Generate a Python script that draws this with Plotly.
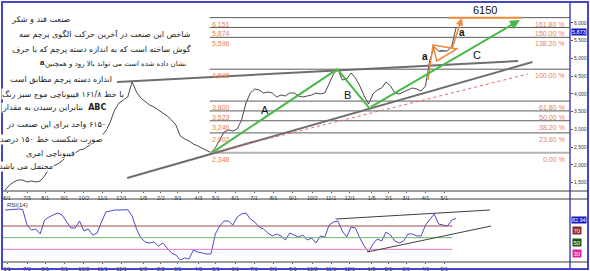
import plotly.graph_objects as go
import pandas as pd

# ---------------- data ----------------
week_dates = pd.date_range("2009-05-29", periods=104, freq="7D")

price = [1296, 1437, 1521, 1577, 1577, 1521, 1549, 1521, 1549, 1690,
         1887, 1972, 2028, 2113, 2253, 2310, 2338, 2422, 2451, 2535,
         2620, 2704, 2817, 2958, 3211, 3549, 3746, 3831, 3915, 4338,
         4056, 3887, 3775, 3690, 3634, 3549, 3465, 3380, 3268, 3127,
         2817, 2732, 2676, 2591, 2535, 2479, 2422, 2348, 2479, 2704,
         2929, 2986, 2958, 3014, 3268, 3746, 4028, 4141, 4113, 4028,
         4056, 4028, 3915, 3972, 3944, 4028, 4028, 3944, 3915, 3944,
         3972, 4028, 4000, 4028, 4310, 4563, 4698, 4394, 4422, 4591,
         4451, 4225, 3944, 3718, 4000, 4113, 4169, 4338, 4225, 4028,
         4000, 4056, 4113, 4169, 4141, 4084, 4225, 4958, 5324, 5211,
         5211, 5211, 5352, 5873]

rsi = [97.4, 98.5, 98.5, 99.0, 98.5, 71.7, 63.1, 64.9, 56.3, 80.3,
       85.4, 88.9, 92.3, 88.9, 76.9, 66.6, 66.6, 78.6, 61.4, 64.9,
       54.6, 58.0, 76.9, 94.0, 95.7, 97.4, 97.4, 97.4, 98.0, 87.1,
       64.9, 49.4, 42.6, 40.9, 42.6, 35.7, 40.9, 32.3, 23.7, 20.3,
       11.7, 15.2, 13.4, 28.9, 25.4, 23.7, 22.0, 22.0, 56.3, 70.0,
       78.6, 78.6, 71.7, 85.4, 90.6, 92.3, 82.0, 76.9, 68.3, 64.9,
       58.0, 52.9, 56.3, 52.9, 46.0, 58.0, 54.6, 51.1, 54.6, 46.0,
       49.4, 40.9, 52.9, 51.1, 71.7, 76.9, 78.6, 61.4, 51.1, 68.3,
       66.6, 49.4, 35.7, 25.4, 39.1, 47.7, 44.3, 59.7, 54.6, 44.3,
       40.9, 44.3, 56.3, 56.3, 52.9, 52.9, 71.7, 82.0, 90.6, 73.4,
       71.7, 70.0, 80.3, 82.94]

tick_dates = ["2009-06-01", "2009-07-03", "2009-08-01", "2009-09-01", "2009-10-02",
              "2009-11-01", "2009-12-01", "2010-01-05", "2010-02-02", "2010-03-01",
              "2010-04-03", "2010-05-01", "2010-06-01", "2010-07-01", "2010-08-01",
              "2010-09-01", "2010-10-02", "2010-11-01", "2010-12-01", "2011-01-05",
              "2011-02-01", "2011-03-01", "2011-04-01", "2011-05-01"]
tick_text = ["6/1", "7/3", "8/1", "9/1", "10/2", "11/1", "12/1", "1/5", "2/2", "3/1",
             "4/3", "5/1", "6/1", "7/1", "8/1", "9/1", "10/2", "11/1", "12/1", "1/5",
             "2/1", "3/1", "4/1", "5/1"]

price_ticks = [1500, 2000, 2500, 3000, 3500, 4000, 4500, 5000, 5500, 6000]
price_tick_text = ["1,500", "2,000", "2,500", "3,000", "3,500", "4,000", "4,500",
                   "5,000", "5,500", "6,000"]

fib_values = [2348, 2903, 3246, 3523, 3800, 4698, 5596, 5874, 6151]
fib_value_labels = ["2,348", "2,902", "3,246", "3,523", "3,800", "4,698", "5,596",
                    "5,874", "6,151"]
fib_pct_labels = ["0.00 %", "23.60 %", "38.20 %", "50.00 %", "61.80 %", "100.00 %",
                  "138.20 %", "150.00 %", "161.80 %"]

rsi_levels = [70, 50, 30]
rsi_level_colors = ["#a04848", "#6cb86c", "#e878c8"]
rsi_level_box = ["#8a2a2a", "#145c14", "#e0209c"]

title_fa = "صنعت قند و شکر"
para_lines = [
    "شاخص این صنعت در آخرین حرکت الگوی پرچم سه",
    "گوش ساخته است که به اندازه دسته پرچم که با حرف",
    "نشان داده شده است می تواند بالا رود و همچنین",
    "اندازه دسته پرچم مطابق است",
    "\u200fبا خط ۱۶۱/۸ فیبوناچی موج سبز رنگ",
    "بنابراین رسیدن به مقدار  <b>ABC</b>",
    "\u200f۶۱۵۰ واحد برای این صنعت در",
    "\u200fصورت شکست خط ۱۵۰ درصد",
    "فیبوناچی امری",
    "محتمل می باشد",
]
para_right = [192, 192, 187, 113, 125, 107, 107, 104, 76, 54]
para_y = [34, 49, 64, 79, 94, 108, 124, 139, 153, 166]
para_size = [8, 8, 7, 8, 8, 8, 8, 8, 8, 8]

# ---------------- layout helpers ----------------
W, H = 590, 271
def px(x):
    return x / W
def py(y):
    return 1 - y / H

X_RANGE = ["2009-05-25 14:00", "2011-11-18"]
Y_RANGE = [1267, 6563]
RSI_RANGE = [8.3, 116.3]
LBL = "Liberation Sans, Arial, sans-serif"
FA = "DejaVu Sans, sans-serif"
ORANGE = "#f08a3c"
GREEN = "#48b848"
SAL = "#e8805a"

fig = go.Figure()
fig.add_trace(go.Scatter(x=week_dates, y=price, mode="lines",
                         line=dict(color="#1a1a1a", width=0.8),
                         xaxis="x", yaxis="y", showlegend=False, hoverinfo="skip"))
fig.add_trace(go.Scatter(x=week_dates, y=rsi, mode="lines",
                         line=dict(color="#4a4ad0", width=1),
                         xaxis="x2", yaxis="y2", showlegend=False, hoverinfo="skip"))

shapes = []
ann = []

# fibonacci levels
for v, vl, pl in zip(fib_values, fib_value_labels, fib_pct_labels):
    zero = v == fib_values[0]
    shapes.append(dict(type="line", xref="x", yref="y", x0="2010-04-21", x1=X_RANGE[1],
                       y0=v, y1=v,
                       line=dict(color="#b4b4b4" if zero else "#5c5c5c", width=2 if zero else 1)))
    ann.append(dict(xref="x", yref="y", x="2010-04-22", y=v, text=vl, showarrow=False,
                    xanchor="left", yanchor="top", yshift=-1,
                    font=dict(family=LBL, size=7, color=SAL)))
    ann.append(dict(xref="paper", yref="y", x=px(567), y=v, text=pl, showarrow=False,
                    xanchor="right", yanchor="top", yshift=-1,
                    font=dict(family=LBL, size=7, color=SAL)))

# gray trend lines
shapes.append(dict(type="line", xref="x", yref="y", x0="2009-11-24", y0=4338,
                   x1="2011-08-27", y1=4930, line=dict(color="#6e6e6e", width=2)))
shapes.append(dict(type="line", xref="x", yref="y", x0="2009-12-10", y0=1634,
                   x1="2011-09-19", y1=4901, line=dict(color="#6e6e6e", width=2)))
# red dotted
shapes.append(dict(type="line", xref="x", yref="y", x0="2010-04-25", y0=2348,
                   x1="2011-09-12", y1=4563, line=dict(color="#e06a6a", width=1, dash="dot")))
# green zigzag
shapes.append(dict(type="line", xref="x", yref="y", x0="2010-04-25", y0=2348,
                   x1="2010-11-11", y1=4698, line=dict(color=GREEN, width=2)))
shapes.append(dict(type="line", xref="x", yref="y", x0="2010-11-11", y0=4698,
                   x1="2011-01-01", y1=3606, line=dict(color=GREEN, width=2)))
ann.append(dict(xref="x", yref="y", x="2011-08-30", y=6085, ax="2011-01-01", ay=3606,
                axref="x", ayref="y", showarrow=True, arrowhead=2, arrowsize=1,
                arrowwidth=2, arrowcolor=GREEN, text=""))
# orange flag
shapes.append(dict(type="line", xref="x", yref="y", x0="2011-04-05", y0=4394,
                   x1="2011-04-13", y1=5380, line=dict(color=ORANGE, width=1.5)))
shapes.append(dict(type="path", xref="x", yref="y",
                   path="M 2011-04-13,5380 L 2011-05-21,5268 L 2011-04-19,4930 Z",
                   line=dict(color=ORANGE, width=1.5)))
ann.append(dict(xref="x", yref="y", x="2011-05-29", y=6141, ax="2011-05-13", ay=5239,
                axref="x", ayref="y", showarrow=True, arrowhead=2, arrowsize=1,
                arrowwidth=1.5, arrowcolor=ORANGE, text=""))
shapes.append(dict(type="line", xref="x", yref="y", x0="2011-05-08", y0=6150,
                   x1="2011-09-02", y1=6150, line=dict(color=ORANGE, width=2)))
ann.append(dict(xref="x", yref="y", x="2011-07-05", y=6150, yanchor="bottom", text="6150",
                showarrow=False, font=dict(family=LBL, size=11, color="#111")))
ann.append(dict(xref="x", yref="y", x="2011-04-27", y=5230, text="abc", showarrow=False,
                font=dict(family=LBL, size=4, color="#444")))

# wave letters
for t, d, v, s, b in [("A", "2010-07-18", 3549, 11, False), ("B", "2010-11-28", 3972, 11, False),
                      ("C", "2011-06-22", 5099, 11, False), ("a", "2011-03-31", 5042, 10, True),
                      ("a", "2011-05-29", 5718, 10, True)]:
    ann.append(dict(xref="x", yref="y", x=d, y=v, text=f"<b>{t}</b>" if b else t,
                    showarrow=False, font=dict(family=LBL, size=s, color="#111")))

# RSI levels
for lv, c in zip(rsi_levels, rsi_level_colors):
    shapes.append(dict(type="line", xref="x2", yref="y2", x0=X_RANGE[0], x1="2011-05-14",
                       y0=lv, y1=lv, line=dict(color=c, width=1)))
# RSI trend lines
shapes.append(dict(type="line", xref="x2", yref="y2", x0="2010-11-09", y0=82,
                   x1="2011-07-13", y1=97.4, line=dict(color="#404040", width=1)))
shapes.append(dict(type="line", xref="x2", yref="y2", x0="2010-12-29", y0=25.4,
                   x1="2011-07-15", y1=70, line=dict(color="#404040", width=1)))

# right side value boxes
ann.append(dict(xref="paper", yref="y", x=px(571), y=price[-1], yshift=-5, text="5,873",
                showarrow=False, xanchor="left", bgcolor="#1818c0", borderpad=0,
                font=dict(family=LBL, size=5.5, color="white")))
ann.append(dict(xref="paper", yref="y2", x=px(571), y=rsi[-1], yshift=-2, text="82.94",
                showarrow=False, xanchor="left", bgcolor="#1818c0", borderpad=0,
                font=dict(family=LBL, size=5.5, color="white")))
for lv, c in zip(rsi_levels, rsi_level_box):
    ann.append(dict(xref="paper", yref="y2", x=px(572), y=lv, text=str(lv), showarrow=False,
                    xanchor="left", yanchor="top", bgcolor=c, borderpad=0.5,
                    font=dict(family=LBL, size=6, color="white")))
ann.append(dict(xref="paper", yref="paper", x=px(5), y=py(200), text="RSI(14)",
                showarrow=False, xanchor="left", yanchor="top",
                font=dict(family=LBL, size=6, color="#333")))

# Persian text
ann.append(dict(xref="paper", yref="paper", x=px(9), y=py(13), text=title_fa, showarrow=False,
                xanchor="left", font=dict(family=FA, size=8, color="#222")))
for t, r, yy, fs in zip(para_lines, para_right, para_y, para_size):
    ann.append(dict(xref="paper", yref="paper", x=px(r), y=py(yy), text=t, showarrow=False,
                    xanchor="right", yanchor="middle", bgcolor="white", borderpad=0,
                    font=dict(family=FA, size=fs, color="#222")))
ann.append(dict(xref="paper", yref="paper", x=px(47), y=py(63), text="<b>a</b>",
                showarrow=False, xanchor="right", yanchor="middle",
                font=dict(family=LBL, size=8, color="#111")))

# frame
BLUE = "#4646c8"
shapes.append(dict(type="rect", xref="paper", yref="paper", x0=px(2), x1=px(588), y0=py(269),
                   y1=py(2), line=dict(color=BLUE, width=2), layer="above"))
shapes.append(dict(type="line", xref="paper", yref="paper", x0=px(570), x1=px(570), y0=py(269),
                   y1=py(2), line=dict(color=BLUE, width=1.5), layer="above"))
for yy in [191, 199, 262]:
    shapes.append(dict(type="line", xref="paper", yref="paper", x0=px(3), x1=px(588), y0=py(yy),
                       y1=py(yy), line=dict(color="#3a3a3a", width=1), layer="above"))

xcommon = dict(type="date", range=X_RANGE, tickvals=tick_dates, ticktext=tick_text,
               tickfont=dict(family=LBL, size=5.5, color="#333"), showgrid=False,
               zeroline=False, showline=False, ticks="outside", ticklen=1, tickcolor="#555",
               domain=[px(3), px(570)], fixedrange=True)

fig.update_layout(
    width=W, height=H, margin=dict(l=0, r=0, t=0, b=0),
    paper_bgcolor="white", plot_bgcolor="white",
    xaxis=dict(xcommon, anchor="y"),
    xaxis2=dict(xcommon, anchor="y2"),
    yaxis=dict(domain=[py(191), py(3)], range=Y_RANGE, side="right", anchor="x",
               tickvals=price_ticks, ticktext=price_tick_text,
               tickfont=dict(family=LBL, size=5, color="#333"), showgrid=False,
               zeroline=False, ticks="outside", ticklen=2, tickcolor="#555"),
    yaxis2=dict(domain=[py(262), py(199)], range=RSI_RANGE, anchor="x2", side="right",
                showticklabels=False, showgrid=False, zeroline=False),
    shapes=shapes, annotations=ann, showlegend=False,
)

fig.write_html("out.html")
